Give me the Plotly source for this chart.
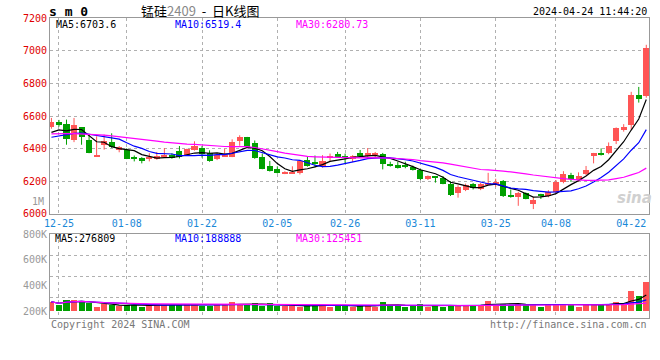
import plotly.graph_objects as go
import pandas as pd

# ---------------- data ----------------
trade_dates = ["12-22", "12-25", "12-26", "12-27", "12-28", "12-29",
               "01-02", "01-03", "01-04", "01-05",
               "01-08", "01-09", "01-10", "01-11", "01-12",
               "01-15", "01-16", "01-17", "01-18", "01-19",
               "01-22", "01-23", "01-24", "01-25", "01-26",
               "01-29", "01-30", "01-31", "02-01", "02-02",
               "02-05", "02-06", "02-07", "02-08",
               "02-19", "02-20", "02-21", "02-22", "02-23",
               "02-26", "02-27", "02-28", "02-29", "03-01",
               "03-04", "03-05", "03-06", "03-07", "03-08",
               "03-11", "03-12", "03-13", "03-14", "03-15",
               "03-18", "03-19", "03-20", "03-21", "03-22",
               "03-25", "03-26", "03-27", "03-28", "03-29",
               "04-01", "04-02", "04-03",
               "04-08", "04-09", "04-10", "04-11", "04-12",
               "04-15", "04-16", "04-17", "04-18", "04-19",
               "04-22", "04-23", "04-24"]

opens = [6530, 6566, 6554, 6450, 6530, 6456, 6355, 6424, 6440, 6390,
         6390, 6350, 6344, 6336, 6334, 6350, 6364, 6385, 6360, 6390,
         6404, 6376, 6334, 6352, 6350, 6447, 6470, 6432, 6352, 6296,
         6274, 6246, 6250, 6250, 6330, 6318, 6294, 6340, 6368, 6354,
         6334, 6372, 6354, 6362, 6368, 6302, 6302, 6298, 6290, 6272,
         6212, 6230, 6222, 6184, 6126, 6148, 6182, 6152, 6182, 6178,
         6202, 6116, 6102, 6126, 6060, 6122, 6108, 6136, 6196, 6236,
         6206, 6242, 6354, 6372, 6372, 6446, 6512, 6542, 6730, 6720]
highs = [6588, 6576, 6578, 6588, 6532, 6482, 6476, 6486, 6494, 6416,
         6402, 6358, 6348, 6372, 6380, 6404, 6372, 6416, 6400, 6445,
         6416, 6390, 6372, 6400, 6457, 6482, 6472, 6450, 6370, 6325,
         6292, 6262, 6292, 6330, 6355, 6358, 6360, 6370, 6380, 6370,
         6360, 6392, 6404, 6380, 6374, 6320, 6320, 6320, 6296, 6276,
         6236, 6232, 6232, 6200, 6176, 6186, 6190, 6190, 6252, 6216,
         6208, 6150, 6136, 6132, 6104, 6124, 6146, 6208, 6262, 6252,
         6255, 6294, 6374, 6402, 6438, 6530, 6550, 6748, 6778, 7036]
lows = [6522, 6535, 6424, 6440, 6424, 6372, 6353, 6394, 6405, 6378,
        6336, 6322, 6310, 6322, 6332, 6348, 6338, 6340, 6355, 6388,
        6345, 6320, 6330, 6350, 6348, 6418, 6410, 6338, 6274, 6260,
        6248, 6244, 6246, 6242, 6290, 6286, 6284, 6325, 6345, 6312,
        6318, 6352, 6350, 6345, 6273, 6290, 6278, 6280, 6266, 6208,
        6208, 6192, 6182, 6110, 6100, 6140, 6150, 6146, 6176, 6166,
        6104, 6100, 6050, 6090, 6030, 6092, 6102, 6128, 6188, 6196,
        6198, 6238, 6310, 6358, 6366, 6428, 6504, 6516, 6682, 6712]
closes = [6566, 6546, 6460, 6544, 6470, 6374, 6363, 6446, 6408, 6408,
          6338, 6340, 6324, 6352, 6354, 6358, 6344, 6352, 6396, 6416,
          6370, 6326, 6362, 6356, 6440, 6470, 6412, 6340, 6276, 6262,
          6252, 6256, 6258, 6322, 6296, 6310, 6324, 6358, 6352, 6344,
          6354, 6360, 6372, 6366, 6308, 6296, 6282, 6292, 6272, 6212,
          6234, 6222, 6184, 6118, 6166, 6180, 6160, 6184, 6192, 6198,
          6108, 6102, 6126, 6094, 6088, 6112, 6132, 6198, 6245, 6212,
          6235, 6272, 6372, 6364, 6418, 6524, 6534, 6730, 6702, 7016]
# estimated closes before the visible window (needed only to warm up the MAs)
pre_closes = [6470, 6490, 6520, 6510, 6480, 6460, 6490, 6530, 6550, 6520,
              6500, 6480, 6510, 6540, 6520, 6490, 6470, 6500, 6480, 6490,
              6460, 6420, 6430, 6450, 6440, 6470, 6490, 6500, 6474]

volumes = [273000, 251000, 289000, 289000, 279000, 260000, 230000, 256000, 251000, 240000,
           251000, 251000, 235000, 251000, 251000, 251000, 251000, 251000, 251000, 251000,
           243000, 243000, 251000, 251000, 273000, 251000, 251000, 260000, 240000, 260000,
           240000, 240000, 240000, 235000, 251000, 251000, 251000, 235000, 243000, 243000,
           235000, 243000, 251000, 235000, 273000, 243000, 243000, 235000, 243000, 258000,
           235000, 243000, 235000, 251000, 243000, 251000, 243000, 243000, 281000, 251000,
           258000, 251000, 258000, 251000, 251000, 235000, 251000, 258000, 258000, 251000,
           235000, 251000, 258000, 258000, 251000, 273000, 258000, 357000, 319000, 425000]

tick_labels = ["12-25", "01-08", "01-22", "02-05", "02-26", "03-11", "03-25", "04-08", "04-22"]
grid_labels = ["12-25", "01-08", "01-22", "02-05", "02-26", "03-11", "03-25", "04-08"]
price_ticks = [6000, 6200, 6400, 6600, 6800, 7000, 7200]
vol_ticks = [200000, 400000, 600000, 800000]
vol_tick_text = ["200K", "400K", "600K", "800K"]

ma_text_price = ["MA5:6703.6", "MA10:6519.4", "MA30:6280.73"]
ma_text_vol = ["MA5:276809", "MA10:188888", "MA30:125451"]

# ---------------- styles ----------------
RED = "#ff5555"
GREEN = "#00a000"
MA_COLORS = ["#000000", "#0000ff", "#ff00ff"]
GRID = "#b0b0b0"
FRAME = "#999999"
MONO = "DejaVu Sans Mono"
VOL_BASE = 200000
X_RANGE = [-0.19, 79.36]
VOL_RANGE = [147000, 800500]

x = list(range(len(trade_dates)))
up = [c >= o for o, c in zip(opens, closes)]

all_closes = pd.Series(pre_closes + closes)
n_pre = len(pre_closes)
ma_price = [all_closes.rolling(w).mean().iloc[n_pre:].tolist() for w in (5, 10, 30)]
vol_s = pd.Series(volumes)
ma_vol = [vol_s.rolling(w, min_periods=1).mean().tolist() for w in (5, 10, 30)]

fig = go.Figure()

for is_up, col in ((True, RED), (False, GREEN)):
    idx = [i for i in x if up[i] == is_up]
    wx, wy = [], []
    for i in idx:
        wx += [i, i, None]
        wy += [lows[i], highs[i], None]
    fig.add_trace(go.Scatter(x=wx, y=wy, mode="lines", line=dict(color=col, width=1),
                             xaxis="x", yaxis="y", hoverinfo="skip"))
    fig.add_trace(go.Bar(x=idx,
                         base=[min(opens[i], closes[i]) for i in idx],
                         y=[max(abs(closes[i] - opens[i]), 6) for i in idx],
                         width=0.8, marker=dict(color=col, line=dict(width=0)),
                         xaxis="x", yaxis="y", hoverinfo="skip"))
    fig.add_trace(go.Bar(x=idx,
                         base=VOL_BASE,
                         y=[volumes[i] - VOL_BASE for i in idx],
                         width=0.8, marker=dict(color=col, line=dict(width=0)),
                         xaxis="x2", yaxis="y2", hoverinfo="skip"))

for ma, col in zip(ma_price, MA_COLORS):
    fig.add_trace(go.Scatter(x=x, y=ma, mode="lines", line=dict(color=col, width=1.2),
                             xaxis="x", yaxis="y", hoverinfo="skip"))
for ma, col in zip(ma_vol, MA_COLORS):
    fig.add_trace(go.Scatter(x=x, y=ma, mode="lines", line=dict(color=col, width=1.2),
                             xaxis="x2", yaxis="y2", hoverinfo="skip"))

tick_idx = [trade_dates.index(d) for d in tick_labels]
grid_idx = [trade_dates.index(d) for d in grid_labels]
vol_grid = [VOL_RANGE[0] + k * (VOL_RANGE[1] - VOL_RANGE[0]) / 4 for k in (1, 2, 3)]

minor_x = dict(tickmode="array", tickvals=grid_idx, showgrid=True, gridcolor=GRID,
               griddash="dot", gridwidth=1, ticks="")

fig.update_layout(
    width=660, height=360,
    margin=dict(l=50, r=11, t=18, b=42, autoexpand=False),
    paper_bgcolor="white", plot_bgcolor="white",
    showlegend=False, barmode="overlay", bargap=0,
    xaxis=dict(domain=[0, 1], range=X_RANGE, anchor="y", automargin=False,
               tickmode="array", tickvals=tick_idx, ticktext=tick_labels,
               tickfont=dict(family=MONO, size=10, color="#1a88d8"),
               showgrid=False, minor=minor_x, ticks="",
               showline=True, linecolor=FRAME, linewidth=1, mirror=True, zeroline=False),
    yaxis=dict(domain=[0.3467, 1], range=[6000, 7200], anchor="x", automargin=False,
               tickmode="array", tickvals=price_ticks,
               tickfont=dict(family=MONO, size=10, color="#e00000"),
               showgrid=True, gridcolor=GRID, griddash="dot", gridwidth=1, ticks="",
               showline=True, linecolor=FRAME, linewidth=1, mirror=True, zeroline=False),
    xaxis2=dict(domain=[0, 1], range=X_RANGE, anchor="y2", showticklabels=False,
                automargin=False, showgrid=False, minor=minor_x, ticks="",
                showline=True, linecolor=FRAME, linewidth=1, mirror=True, zeroline=False),
    yaxis2=dict(domain=[0, 0.28], range=VOL_RANGE, anchor="x2", automargin=False,
                tickmode="array", tickvals=vol_ticks, ticktext=vol_tick_text,
                tickfont=dict(family=MONO, size=10, color="#999999"),
                showgrid=False, ticks="",
                minor=dict(tickmode="array", tickvals=vol_grid, showgrid=True,
                           gridcolor=GRID, griddash="dot", gridwidth=1, ticks=""),
                showline=True, linecolor=FRAME, linewidth=1, mirror=True, zeroline=False),
)


def px(xp):
    return (xp - 50) / 599


def py(yp):
    return (318 - yp) / 300


def note(text, xp, yp, anchor="left", color="black", size=10, family=MONO):
    fig.add_annotation(text=text, x=px(xp), y=py(yp), xref="paper", yref="paper",
                       xanchor=anchor, yanchor="middle", showarrow=False,
                       font=dict(family=family, size=size, color=color))


note("<b>s m 0</b>", 47, 12, size=13)
note("锰硅<span style='color:#888888'>2409</span>&nbsp;&nbsp;-&nbsp;&nbsp;日K线图", 200, 11,
     anchor="center", size=13, family="Noto Sans CJK SC")
note("2024-04-24 11:44:20", 649, 12, anchor="right")
for t, xp, col in zip(ma_text_price, (54, 173, 294), MA_COLORS):
    note(t, xp, 24, color=col)
for t, xp, col in zip(ma_text_vol, (53, 173, 294), MA_COLORS):
    note(t, xp, 238, color=col)
note("1M", 46, 201, anchor="right", color="#999999")
note("Copyright 2024 SINA.COM", 49, 324, color="#777777")
note("http://finance.sina.com.cn", 649, 324, anchor="right", color="#777777")
note("<b><i>sina</i></b>", 634, 198, anchor="center", color="#d0d0d0", size=15,
     family="DejaVu Sans")

fig.write_html("out.html", config={"displayModeBar": False},
               post_script="document.body.style.margin='0';document.body.style.padding='0';")
